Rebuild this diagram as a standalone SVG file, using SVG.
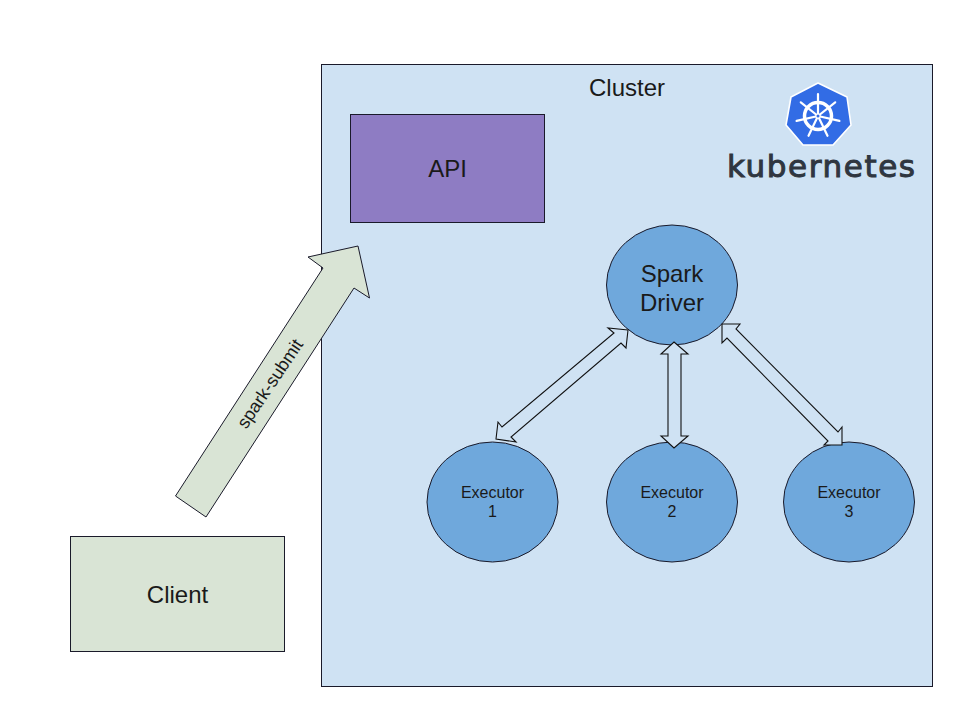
<svg xmlns="http://www.w3.org/2000/svg" width="960" height="720" viewBox="0 0 960 720">
<style>
text{font-family:"Liberation Sans",Arial,sans-serif;fill:#1a1a1a;text-anchor:middle}
.box{stroke:#1a1a2a;stroke-width:1}
.green{fill:#d9e4d5}
.node{fill:#6fa8dc;stroke:#1a1a2a;stroke-width:1}
.dbl{fill:#cfe2f3;stroke:#111;stroke-width:1.1}
.big{font-size:24px}
.sm{font-size:16px}
.wheel{stroke:#fff;fill:none;stroke-linecap:round}
</style>
<rect width="960" height="720" fill="#fff"/>
<g id="cluster">
<rect class="box" x="321.500" y="64.500" width="611" height="622" fill="#cfe2f3"/>
<text x="627" y="96" style="font-size:24px">Cluster</text>
</g>
<g id="kubernetes-logo">
<polygon points="818,83 847,97 851,125 833,145 803,145 786,125 791,97" fill="#326ce5" stroke="#fff" stroke-width="1.600" stroke-linejoin="round"/>
<g class="wheel">
<circle cx="818" cy="116" r="13.500" stroke-width="3.500"/>
<path stroke-width="2.200" d="M818,116L818,94M818,116L835.200,102.300M818,116L839.400,120.900M818,116L827.500,135.800M818,116L808.500,135.800M818,116L796.600,120.900M818,116L800.800,102.300"/>
</g>
<circle cx="818" cy="116" r="2.500" fill="#fff"/>
<circle cx="818" cy="116" r="1.500" fill="#326ce5"/>
<text x="821" y="177" textLength="188" lengthAdjust="spacing" style='font-family:"DejaVu Sans",sans-serif;font-size:31px;stroke:#2f3640;stroke-width:1;fill:#2f3640'>kubernetes</text>
</g>
<g id="api">
<rect class="box" x="350.500" y="114.500" width="194" height="108" fill="#8e7cc3"/>
<text class="big" x="447.500" y="177">API</text>
</g>
<g id="client">
<rect class="box green" x="70.500" y="536.500" width="214" height="115"/>
<text class="big" x="177.500" y="603">Client</text>
</g>
<g id="driver">
<ellipse class="node" cx="672" cy="285" rx="65.500" ry="60"/>
<text class="big" x="672" y="282">Spark</text>
<text class="big" x="672" y="311">Driver</text>
</g>
<g id="executor-1">
<ellipse class="node" cx="492.500" cy="502" rx="65.500" ry="60"/>
<text class="sm" x="492.500" y="498">Executor</text>
<text class="sm" x="492.500" y="517">1</text>
</g>
<g id="executor-2">
<ellipse class="node" cx="672" cy="502" rx="65.500" ry="60"/>
<text class="sm" x="672" y="498">Executor</text>
<text class="sm" x="672" y="517">2</text>
</g>
<g id="executor-3">
<ellipse class="node" cx="849" cy="502" rx="65.500" ry="60"/>
<text class="sm" x="849" y="498">Executor</text>
<text class="sm" x="849" y="517">3</text>
</g>
<g id="connectors">
<g id="spark-submit">
<polygon class="box green" points="175.500,496 206,517 354,288 369.500,298 358,246 308,257 323,268"/>
<text x="275" y="387" transform="rotate(-56 275 387)" style="font-size:18px">spark-submit</text>
</g>
<polygon class="dbl" points="628,330 608,328 614,333 502,427 498,422 496,439 516,442 511,437 621,343 626,348"/>
<polygon class="dbl" points="674,342 688,354 681,354 681,436 688,436 674,448 661,436 668,436 668,354 661,354"/>
<polygon class="dbl" points="722,324 740,324 736,329 838,432 842,427 842,445 824,445 828,441 727,338 722,343"/>
</g>
</svg>
